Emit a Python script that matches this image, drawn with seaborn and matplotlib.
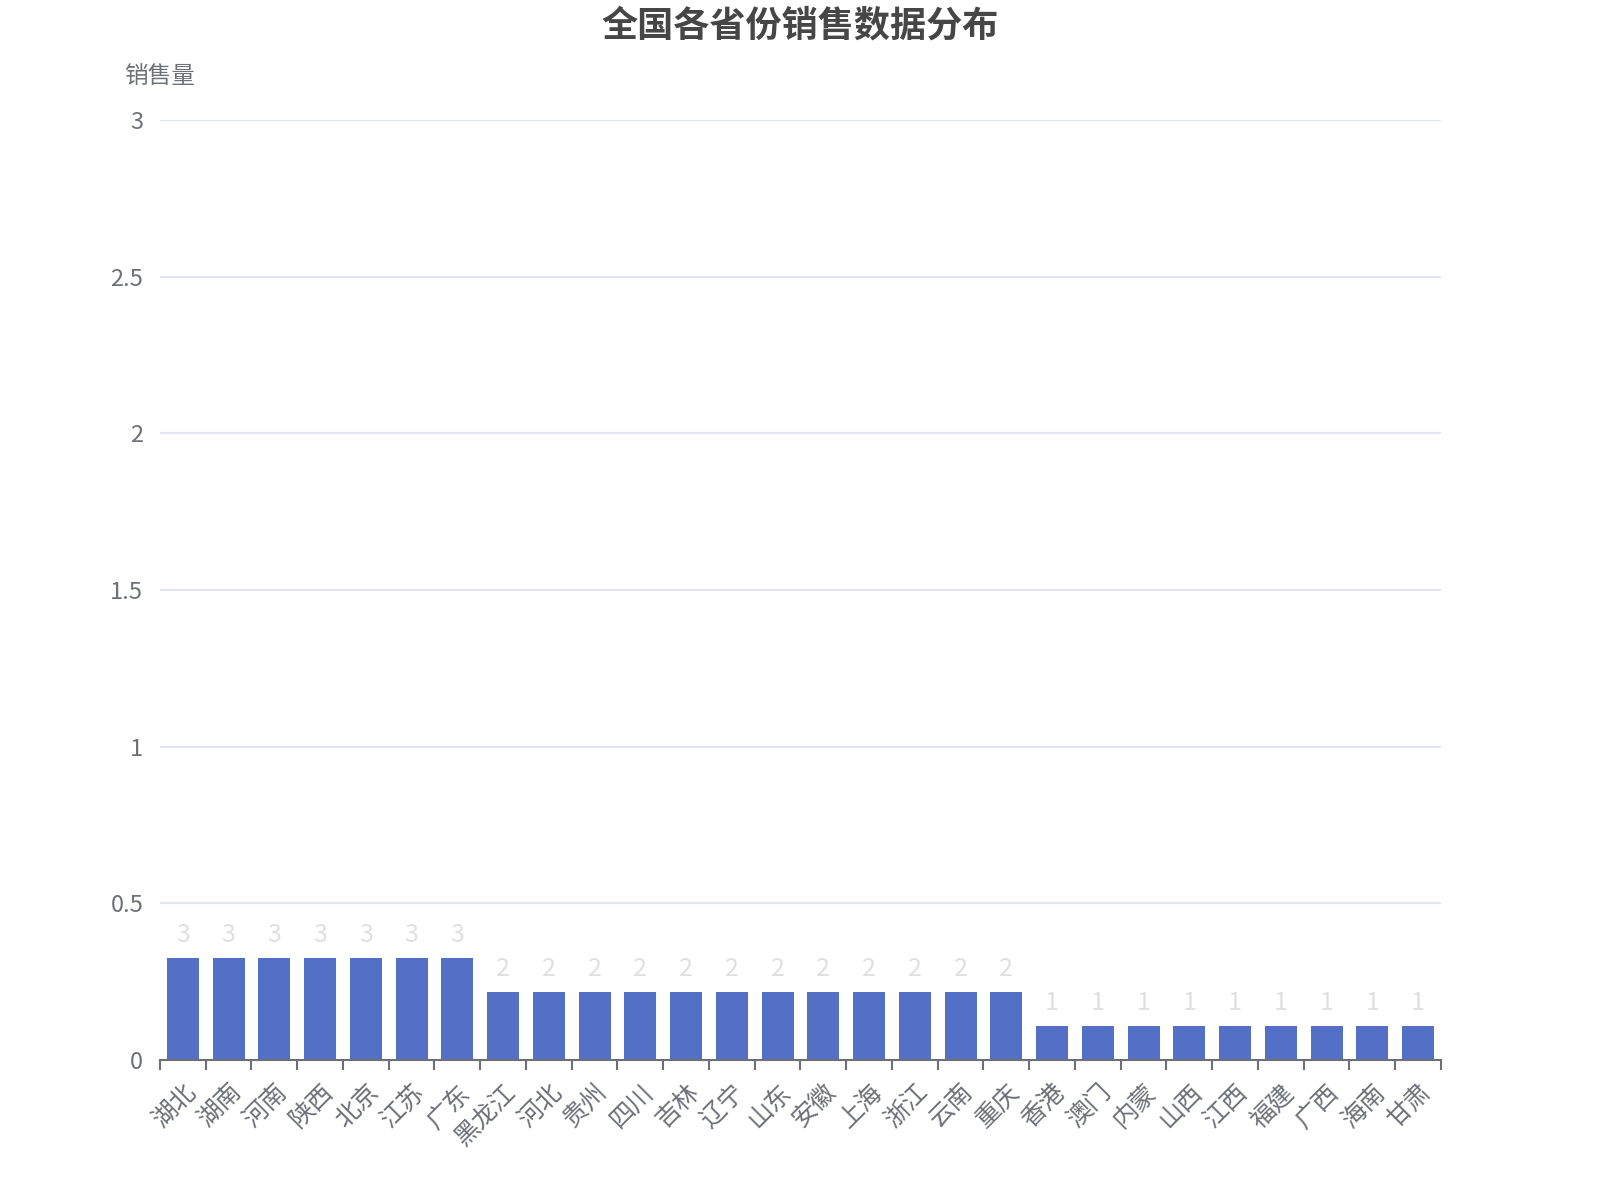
import matplotlib
matplotlib.use('Agg')
import matplotlib.pyplot as plt
import seaborn as sns
import pandas as pd
import numpy as np

# 数据
provinces = ['湖北', '湖南', '河南', '陕西', '北京', '江苏', '广东', '黑龙江', '河北', '贵州',
             '四川', '吉林', '辽宁', '山东', '安徽', '上海', '浙江', '云南', '重庆', '香港',
             '澳门', '内蒙', '山西', '江西', '福建', '广西', '海南', '甘肃']
# 柱顶标签显示的数量
counts = [3, 3, 3, 3, 3, 3, 3, 2, 2, 2,
          2, 2, 2, 2, 2, 2, 2, 2, 2, 1,
          1, 1, 1, 1, 1, 1, 1, 1]
# 柱子实际高度 (按图上 y 轴读取)
heights = [0.325, 0.325, 0.325, 0.325, 0.325, 0.325, 0.325, 0.217, 0.217, 0.217,
           0.217, 0.217, 0.217, 0.217, 0.217, 0.217, 0.217, 0.217, 0.217, 0.108,
           0.108, 0.108, 0.108, 0.108, 0.108, 0.108, 0.108, 0.108]
y_ticks = [0, 0.5, 1, 1.5, 2, 2.5, 3]
y_tick_labels = ['0', '0.5', '1', '1.5', '2', '2.5', '3']

df = pd.DataFrame({'province': provinces, 'count': counts, 'height': heights})

sns.set_theme(style='white')
plt.rcParams['font.family'] = ['Noto Sans CJK SC', 'DejaVu Sans']

fig = plt.figure(figsize=(16, 12), dpi=100)
ax = fig.add_axes([0.1, 0.1167, 0.8006, 0.7833])

sns.barplot(data=df, x='province', y='height', color='#5470c6', saturation=1,
            width=0.7, linewidth=0, ax=ax)

# 柱顶标签
for i, row in df.iterrows():
    ax.annotate(str(row['count']), (i, row['height']), xytext=(0, 7), textcoords='offset points',
                ha='center', va='bottom', fontsize=18, color='#e0e0e0')

ax.set_xlim(-0.5, len(provinces) - 0.5)
ax.set_ylim(0, 3)
ax.set_yticks(y_ticks)
ax.set_yticklabels(y_tick_labels)
ax.grid(axis='y', color='#e0e6f1', linewidth=1.5)
ax.set_axisbelow(True)

ax.set_xticks(range(len(provinces)))
ax.set_xticklabels(provinces, rotation=45, ha='right', va='top', rotation_mode='anchor')
ax.set_xticks(np.arange(-0.5, len(provinces)), minor=True)
ax.tick_params(axis='x', which='major', length=0, pad=14, labelsize=18, labelcolor='#6e7079')
ax.tick_params(axis='x', which='minor', length=7, width=1.5, color='#6e7079', bottom=True)
ax.tick_params(axis='y', length=0, pad=12, labelsize=17, labelcolor='#6e7079')

for side in ['top', 'right', 'left']:
    ax.spines[side].set_visible(False)
ax.spines['bottom'].set_color('#6e7079')
ax.spines['bottom'].set_linewidth(1.5)

ax.set_xlabel('')
ax.set_ylabel('')

fig.text(0.1, 0.936, '销售量', ha='center', va='center', fontsize=17, color='#6e7079')
fig.text(0.5, 0.978, '全国各省份销售数据分布', ha='center', va='center', fontsize=26,
         fontweight='bold', color='#464646')

fig.savefig('out.png', dpi=100)
